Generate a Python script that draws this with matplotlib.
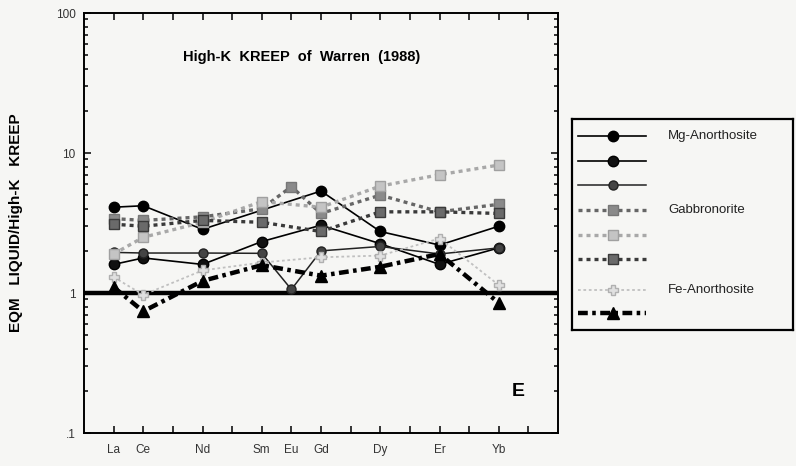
import matplotlib.pyplot as plt
import numpy as np
from matplotlib.ticker import FixedLocator, NullFormatter

plt.rcParams['font.family'] = ['Liberation Sans', 'DejaVu Sans']

# rare earth slots 1..15 (La..Lu), only the analysed ones are labelled
slot_names = ['La', 'Ce', 'Pr', 'Nd', 'Pm', 'Sm', 'Eu', 'Gd', 'Tb', 'Dy', 'Ho', 'Er', 'Tm', 'Yb', 'Lu']
shown = ['La', 'Ce', 'Nd', 'Sm', 'Eu', 'Gd', 'Dy', 'Er', 'Yb']

ree = ['La', 'Ce', 'Nd', 'Sm', 'Eu', 'Gd', 'Dy', 'Er', 'Yb']
# equilibrium liquid / high-K KREEP, None = not determined
mg_anor_1 = [4.1, 4.2, 2.85, None, None, 5.35, 2.75, 2.2, 3.0]
mg_anor_2 = [1.6, 1.78, 1.6, 2.33, None, 3.05, 2.25, 1.6, 2.1]
mg_anor_3 = [1.95, 1.93, 1.93, 1.92, 1.06, 2.0, 2.15, 1.9, 2.1]
gabbro_1 = [3.4, 3.3, 3.5, 4.0, 5.75, 3.7, 5.0, 3.8, 4.3]
gabbro_2 = [1.9, 2.5, 3.2, 4.5, None, 4.1, 5.8, 7.0, 8.2]
gabbro_3 = [3.1, 3.0, 3.3, 3.2, None, 2.75, 3.8, 3.8, 3.7]
fe_anor_1 = [1.3, 0.97, 1.45, 1.65, None, 1.8, 1.85, 2.45, 1.14]
fe_anor_2 = [1.1, 0.74, 1.22, 1.58, None, 1.33, 1.54, 1.9, 0.85]

series = [mg_anor_1, mg_anor_2, mg_anor_3, gabbro_1, gabbro_2, gabbro_3, fe_anor_1, fe_anor_2]
labels = ['Mg-Anorthosite', '', '', 'Gabbronorite', '', '', 'Fe-Anorthosite', '']

styles = [
    dict(color='black', lw=1.2, ls='-', marker='o', ms=7.5, mfc='black', mec='black'),
    dict(color='black', lw=1.2, ls='-', marker='o', ms=7.5, mfc='#111111', mec='black'),
    dict(color='#222222', lw=1.1, ls='-', marker='o', ms=6.5, mfc='#444444', mec='#222222'),
    dict(color='#666666', lw=2.4, ls=(0, (1.2, 1.2)), marker='s', ms=7.5, mfc='#8a8a8a', mec='#777777'),
    dict(color='#a8a8a8', lw=2.4, ls=(0, (1.2, 1.2)), marker='s', ms=7.5, mfc='#c4c4c4', mec='#a0a0a0'),
    dict(color='#3a3a3a', lw=2.4, ls=(0, (1.2, 1.2)), marker='s', ms=7.5, mfc='#6a6a6a', mec='#3a3a3a'),
    dict(color='#c0c0c0', lw=1.3, ls=(0, (1.5, 1.5)), marker='P', ms=7, mfc='#e0e0e0', mec='#b0b0b0'),
    dict(color='black', lw=3.2, ls=(0, (2.2, 1.0, 0.8, 1.0)), marker='^', ms=9, mfc='black', mec='black'),
]

bg = '#f6f6f4'
fig = plt.figure(figsize=(7.96, 4.66), dpi=100, facecolor=bg)
ax = fig.add_axes([84 / 796, 1 - 433 / 466, 474 / 796, 420 / 466], facecolor=bg)

xpos = [slot_names.index(e) + 1 for e in ree]

# reference line at unity
ax.axhline(1.0, color='black', lw=3.2, zorder=1)

for vals, st in zip(series, styles):
    xs = [x for x, v in zip(xpos, vals) if v is not None]
    ys = [v for v in vals if v is not None]
    ax.plot(xs, ys, zorder=3, **st)

ax.set_yscale('log')
ax.set_ylim(0.1, 100)
ax.set_xlim(0, 16)

ax.set_yticks([0.1, 1, 10, 100])
ax.set_yticklabels(['.1', '1', '10', '100'])
ax.yaxis.set_minor_locator(FixedLocator([m * 10.0 ** d for d in range(-1, 2) for m in range(2, 10)]))
ax.yaxis.set_minor_formatter(NullFormatter())

ax.set_xticks(np.arange(1, 16))
ax.set_xticklabels([n if n in shown else '' for n in slot_names])

ax.tick_params(which='both', direction='in', top=True, right=True, labelsize=8.5,
               labelcolor='#333333', width=1.1)
ax.tick_params(which='major', length=5)
ax.tick_params(which='minor', length=3)
ax.tick_params(axis='x', pad=8)
ax.tick_params(axis='y', pad=6)
for sp in ax.spines.values():
    sp.set_linewidth(1.4)

ax.set_ylabel('EQM   LIQUID/High-K   KREEP', fontsize=11, fontweight='bold')
ax.yaxis.set_label_coords(-0.128, 0.5)

ax.text(0.46, 0.895, 'High-K  KREEP  of  Warren  (1988)', transform=ax.transAxes,
        ha='center', va='center', fontsize=10.5, fontweight='bold')
ax.text(0.917, 0.098, 'E', transform=ax.transAxes, ha='center', va='center',
        fontsize=14, fontweight='bold')

# legend panel to the right of the plot
lg = fig.add_axes([572 / 796, 1 - 330 / 466, 221 / 796, 211 / 466], facecolor=bg)
lg.set_xlim(0, 221)
lg.set_ylim(211, 0)
lg.set_xticks([])
lg.set_yticks([])
for sp in lg.spines.values():
    sp.set_linewidth(1.6)
row_y = [17, 42, 66, 91, 116, 140, 171, 194]
for yy, st, lab in zip(row_y, styles, labels):
    lg.plot([6, 74], [yy, yy], **{k: v for k, v in st.items() if k not in ('marker', 'ms', 'mfc', 'mec')})
    lg.plot([41], [yy], ls='none', marker=st['marker'], ms=st['ms'], mfc=st['mfc'], mec=st['mec'])
    if lab:
        lg.text(96, yy, lab, va='center', ha='left', fontsize=9.5, color='#222222')

fig.savefig('out.png', dpi=100, facecolor=bg)
